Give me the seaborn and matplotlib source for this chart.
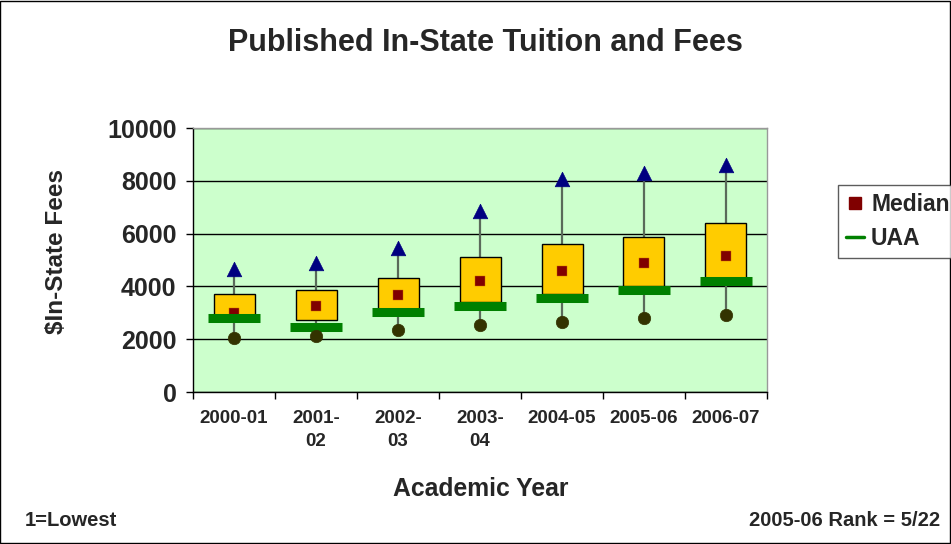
import numpy as np
import pandas as pd
import seaborn as sns
import matplotlib
matplotlib.use("Agg")
from matplotlib import pyplot as plt
from matplotlib.lines import Line2D
from matplotlib.patches import Rectangle

years = ["2000-01", "2001-\n02", "2002-\n03", "2003-\n04", "2004-05", "2005-06", "2006-07"]
max_fee = [4650, 4900, 5470, 6850, 8050, 8280, 8580]
box_top = [3700, 3875, 4330, 5130, 5590, 5880, 6390]
box_bottom = [2750, 2730, 3150, 3400, 3700, 4000, 4300]
median_fee = [3000, 3270, 3670, 4190, 4600, 4870, 5160]
uaa_fee = [2810, 2460, 3030, 3270, 3560, 3860, 4190]
min_fee = [2060, 2120, 2350, 2540, 2640, 2810, 2920]

df = pd.DataFrame({"year": years, "max": max_fee, "top": box_top, "bottom": box_bottom,
                   "median": median_fee, "uaa": uaa_fee, "min": min_fee})
df["pos"] = np.arange(len(df))

sns.set_style("white")
plt.rcParams['font.family'] = ['Liberation Sans', 'DejaVu Sans']
plt.rcParams['font.weight'] = 'bold'

fig = plt.figure(figsize=(9.51, 5.44), dpi=100)
ax = fig.add_axes([0.203, 0.2794, 0.6035, 0.4853])
ax.set_facecolor('#CCFFCC')

# whiskers
ax.vlines(df["pos"], df["min"], df["max"], color='#5A6A5A', lw=1.6, zorder=1)
# boxes
ax.bar(df["pos"], df["top"] - df["bottom"], bottom=df["bottom"], width=0.5,
       color='#FFCC00', edgecolor='black', linewidth=1, zorder=2)
# median
sns.scatterplot(data=df, x="pos", y="median", marker='s', s=45, color='#800000',
                edgecolor='#CC6600', linewidth=0.3, zorder=3, ax=ax)
# UAA bars
ax.hlines(df["uaa"], df["pos"] - 0.32, df["pos"] + 0.32, color='#008000', lw=6.5, zorder=4)
# max / min
sns.scatterplot(data=df, x="pos", y="max", marker='^', s=110, color='#000080',
                edgecolor='#000080', linewidth=0.5, zorder=5, ax=ax)
sns.scatterplot(data=df, x="pos", y="min", marker='o', s=80, color='#333300',
                edgecolor='#333300', linewidth=0.5, zorder=5, ax=ax)

ax.set_xlim(-0.5, 6.5)
ax.set_ylim(0, 10000)
ax.set_yticks(np.arange(0, 10001, 2000))
ax.set_yticklabels([str(v) for v in range(0, 10001, 2000)], fontsize=18, fontweight='bold')
ax.yaxis.grid(True, color='black', lw=1)
ax.set_axisbelow(True)

ax.set_xticks(np.arange(-0.5, 7, 1))
ax.set_xticklabels([])
ax.set_xticks(df["pos"], minor=True)
ax.set_xticklabels(years, minor=True, fontsize=13.5, fontweight='bold', linespacing=1.45,
                   va='top')
ax.tick_params(axis='x', which='major', direction='out', length=5, width=1, color='black')
ax.tick_params(axis='x', which='minor', length=0, pad=13)
ax.tick_params(axis='y', direction='out', length=5, width=1, color='black', pad=7, left=True)
ax.tick_params(axis='x', bottom=True, which='major')

ax.set_xlabel("")
ax.set_ylabel("")
for s in ['left', 'bottom']:
    ax.spines[s].set_color('black')
    ax.spines[s].set_linewidth(1)
for s in ['top', 'right']:
    ax.spines[s].set_color('#999999')
    ax.spines[s].set_linewidth(1)

fig.text(0.51, 0.921, "Published In-State Tuition and Fees", ha='center', va='center',
         fontsize=22, fontweight='bold')
fig.text(0.059, 0.537, "$In-State Fees", ha='center', va='center', rotation=90,
         fontsize=17.5, fontweight='bold')
fig.text(0.505, 0.101, "Academic Year", ha='center', va='center', fontsize=17.8, fontweight='bold')
fig.text(0.026, 0.043, "1=Lowest", ha='left', va='center', fontsize=14.5, fontweight='bold')
fig.text(0.989, 0.043, "2005-06 Rank = 5/22", ha='right', va='center', fontsize=14.5,
         fontweight='bold')

handles = [Line2D([], [], marker='s', color='#800000', linestyle='none', markersize=8),
           Line2D([], [], color='#008000', lw=2.5)]
leg = fig.legend(handles, ["Median", "UAA"], loc='upper left', bbox_to_anchor=(0.881, 0.66),
                 prop={'size': 16.5, 'weight': 'bold'}, frameon=True, fancybox=False,
                 handlelength=0.8, handletextpad=0.3, labelspacing=0.5, borderpad=0.35,
                 borderaxespad=0)
leg.get_frame().set_edgecolor('#333333')
leg.get_frame().set_linewidth(1)

fig.patches.append(Rectangle((0.0005, 0.001), 0.9985, 0.997, transform=fig.transFigure,
                             fill=False, edgecolor='black', lw=1))

fig.savefig("out.png", dpi=100)
